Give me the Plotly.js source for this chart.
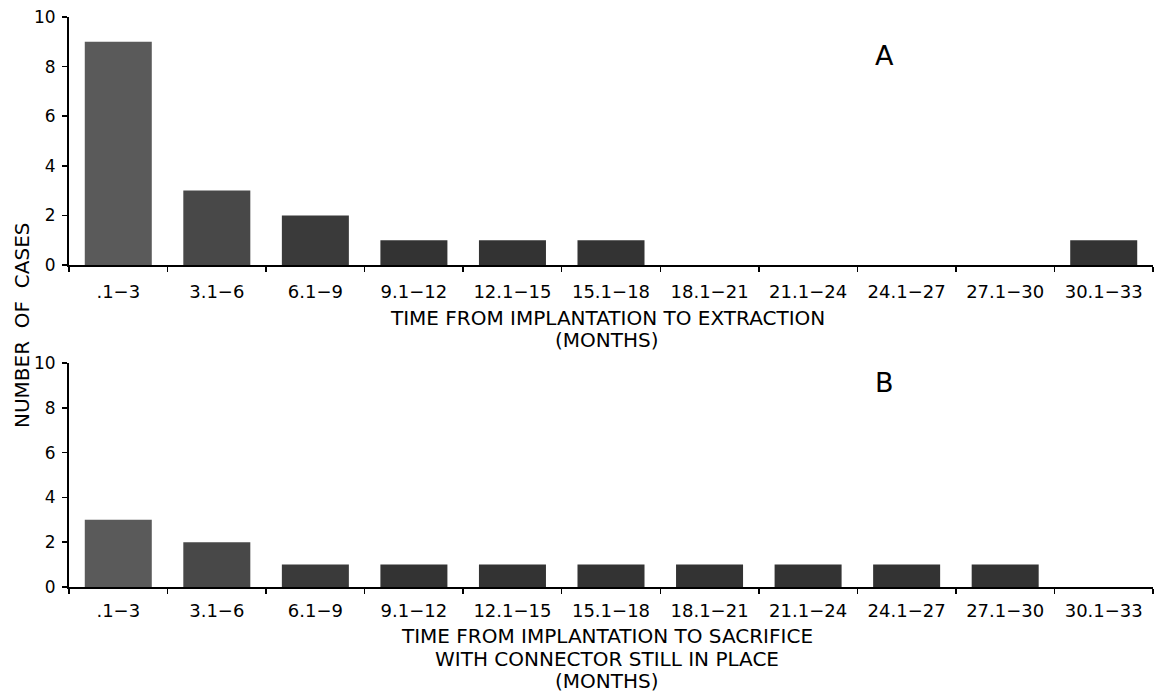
<!DOCTYPE html>
<html>
<head>
<meta charset="utf-8">
<script src="https://cdn.plot.ly/plotly-3.0.1.min.js"></script>
<style>html,body{margin:0;padding:0;background:#fff;}#chart{width:1155px;height:692px;}</style>
</head>
<body>
<div id="chart"></div>
<script>
const categories = [".1\u22123", "3.1\u22126", "6.1\u22129", "9.1\u221212", "12.1\u221215", "15.1\u221218", "18.1\u221221", "21.1\u221224", "24.1\u221227", "27.1\u221230", "30.1\u221233"];
const extractionCases = [9, 3, 2, 1, 1, 1, 0, 0, 0, 0, 1];
const sacrificeCases = [3, 2, 1, 1, 1, 1, 1, 1, 1, 1, 0];
const yTicks = [0, 2, 4, 6, 8, 10];
const boundaryTicks = [-0.5, 0.5, 1.5, 2.5, 3.5, 4.5, 5.5, 6.5, 7.5, 8.5, 9.5, 10.5];
const panelLabels = ["A", "B"];
const topTitleLines = ["TIME FROM IMPLANTATION TO EXTRACTION", "(MONTHS)"];
const bottomTitleLines = ["TIME FROM IMPLANTATION TO SACRIFICE", "WITH CONNECTOR STILL IN PLACE", "(MONTHS)"];
const yTitle = "NUMBER  OF  CASES";

const FONT = "DejaVu Sans, Liberation Sans, sans-serif";
const barColors = ["#5a5a5a", "#484848", "#3a3a3a", "#333", "#333", "#333", "#333", "#333", "#333", "#333", "#333"];

const H = 692;
const py = p => 1 - p / H;

const xDom = [69 / 1155, 1153 / 1155];
const topDom = [py(265), py(17)];
const botDom = [py(587), py(363)];

const traces = [
  {type: "bar", x: categories, y: extractionCases, xaxis: "x", yaxis: "y",
   marker: {color: barColors, line: {width: 0}}, hoverinfo: "x+y"},
  {type: "bar", x: categories, y: sacrificeCases, xaxis: "x2", yaxis: "y2",
   marker: {color: barColors, line: {width: 0}}, hoverinfo: "x+y"}
];

function catAxis(anchor, domain, standoff) {
  return {
    type: "category", domain: domain, anchor: anchor,
    categoryorder: "array", categoryarray: categories,
    range: [-0.5, 10.5],
    showline: true, linecolor: "#000", linewidth: 2,
    ticks: "outside", tickson: "boundaries", ticklen: 5, tickwidth: 1.5, tickcolor: "#000",
    showgrid: false, zeroline: false,
    tickfont: {family: FONT, size: 18, color: "#000"},
    ticklabelstandoff: standoff,
    fixedrange: true
  };
}
function overlayX(over, anchor) {
  return {
    overlaying: over, anchor: anchor, type: "linear", range: [-0.5, 10.5],
    tickmode: "array", tickvals: boundaryTicks, showticklabels: false,
    ticks: "inside", ticklen: 4, tickwidth: 1.5, tickcolor: "#000",
    showgrid: false, zeroline: false, showline: false, fixedrange: true
  };
}
function valAxis(anchor, domain) {
  return {
    domain: domain, anchor: anchor, range: [0, 10],
    tickmode: "array", tickvals: yTicks,
    showline: true, linecolor: "#000", linewidth: 2,
    ticks: "outside", ticklen: 5, tickwidth: 1.5, tickcolor: "#000",
    showgrid: false, zeroline: false,
    tickfont: {family: FONT, size: 17, color: "#000"},
    ticklabelstandoff: 3,
    fixedrange: true
  };
}
function overlayY(over, anchor) {
  return {
    overlaying: over, anchor: anchor, range: [0, 10],
    tickmode: "array", tickvals: yTicks, showticklabels: false,
    ticks: "inside", ticklen: 4, tickwidth: 1.5, tickcolor: "#000",
    showgrid: false, zeroline: false, showline: false, fixedrange: true
  };
}

const annFont = {family: FONT, size: 20, color: "#000"};
const annotations = [];
topTitleLines.forEach((t, i) => annotations.push({
  text: t, xref: "paper", yref: "paper", x: 607 / 1155, y: py(318 + i * 22),
  xanchor: "center", yanchor: "middle", showarrow: false, font: annFont
}));
bottomTitleLines.forEach((t, i) => annotations.push({
  text: t, xref: "paper", yref: "paper", x: 607 / 1155, y: py(636 + i * 22.5),
  xanchor: "center", yanchor: "middle", showarrow: false, font: annFont
}));
annotations.push({text: yTitle, xref: "paper", yref: "paper", x: 22 / 1155, y: py(326),
  xanchor: "center", yanchor: "middle", textangle: -90, showarrow: false,
  font: {family: FONT, size: 20, color: "#000"}});
annotations.push({text: panelLabels[0], xref: "paper", yref: "paper", x: 884 / 1155, y: py(55),
  xanchor: "center", yanchor: "middle", showarrow: false, font: {family: FONT, size: 27, color: "#000"}});
annotations.push({text: panelLabels[1], xref: "paper", yref: "paper", x: 884 / 1155, y: py(382),
  xanchor: "center", yanchor: "middle", showarrow: false, font: {family: FONT, size: 27, color: "#000"}});

const layout = {
  width: 1155, height: H,
  margin: {l: 0, r: 0, t: 0, b: 0},
  paper_bgcolor: "#fff", plot_bgcolor: "#fff",
  showlegend: false, bargap: 0.32,
  font: {family: FONT, color: "#000"},
  xaxis: catAxis("y", xDom, 9),
  yaxis: valAxis("x", topDom),
  xaxis2: catAxis("y2", xDom, 6),
  yaxis2: valAxis("x2", botDom),
  xaxis3: overlayX("x", "y"),
  yaxis3: overlayY("y", "x"),
  xaxis4: overlayX("x2", "y2"),
  yaxis4: overlayY("y2", "x2"),
  annotations: annotations
};

Plotly.newPlot("chart", traces, layout, {displayModeBar: false, staticPlot: true});
</script>
</body>
</html>
